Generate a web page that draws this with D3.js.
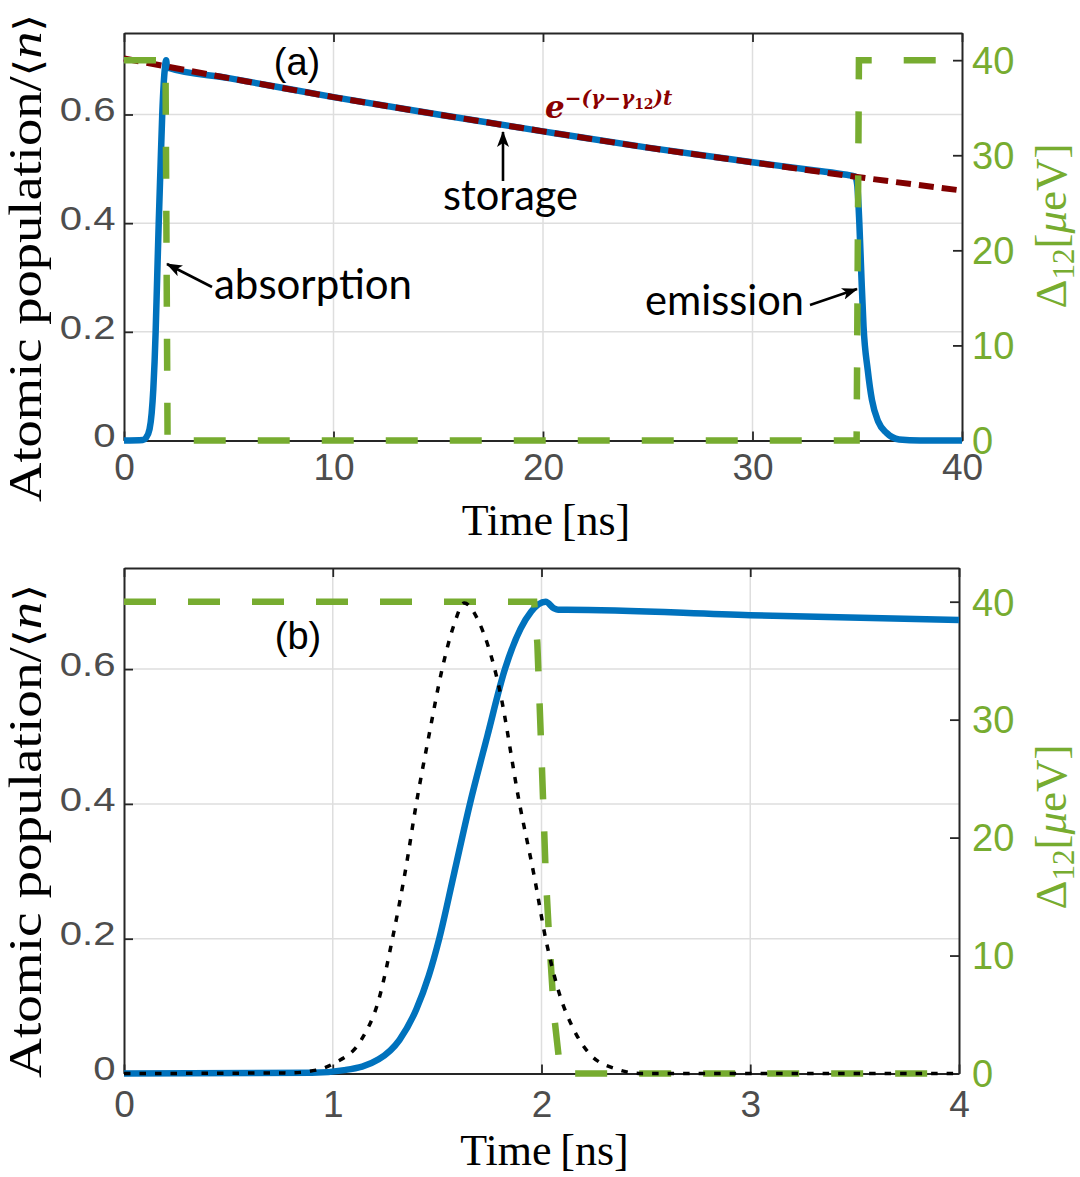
<!DOCTYPE html>
<html>
<head>
<meta charset="utf-8">
<script src="https://cdn.jsdelivr.net/npm/d3@7"></script>
<style>
    body { margin: 0; background: #fff; }
    svg text { font-family: "Liberation Sans", Arial, sans-serif; }
</style>
</head>
<body>
<div id="chart"></div>
<script>
// panel (a): full absorption / storage / emission cycle, 0-40 ns
let timeA = [0, 0.9, 1.05, 1.22, 1.32, 1.40, 1.46, 1.51, 1.58, 1.657, 1.74, 1.825, 1.90, 1.95, 2.01, 2.05, 2.1,
    5, 10, 15, 20, 25, 30, 33, 34.5, 34.9, 35.0, 35.1, 35.2, 35.3, 35.5, 35.7, 36.0, 36.4, 37.0, 38, 40]
let popA = [0, 0.001, 0.005, 0.021, 0.05, 0.095, 0.145, 0.2, 0.295, 0.4, 0.5, 0.6, 0.66, 0.685, 0.70, 0.689, 0.686,
    0.667, 0.632, 0.600, 0.569, 0.539, 0.512, 0.497, 0.489, 0.486, 0.47, 0.40, 0.30, 0.21, 0.13, 0.075, 0.035, 0.014, 0.002, 0, 0]
let fitTimeA = [0, 5, 10, 15, 20, 25, 30, 35, 40]
let fitA = [0.703, 0.667, 0.632, 0.600, 0.569, 0.539, 0.512, 0.485, 0.460]
let detTimeA = [0, 1.98, 2.08, 34.97, 35.08, 40]
let detA = [40, 40, 0, 0, 40, 40]

// panel (b): zoom on the absorption, 0-4 ns
let timeB = [0, 0.9, 1.055, 1.22, 1.32, 1.40, 1.46, 1.51, 1.58, 1.657, 1.74, 1.825, 1.90, 1.95, 1.985, 2.02, 2.06, 2.08, 2.12, 3, 4]
let popB = [0, 0.001, 0.005, 0.021, 0.05, 0.095, 0.145, 0.2, 0.295, 0.4, 0.5, 0.6, 0.66, 0.685, 0.696, 0.700, 0.690, 0.688, 0.688, 0.680, 0.673]
let pulseTimeB = [0, 0.8, 0.92, 1.005, 1.137, 1.22, 1.286, 1.352, 1.40, 1.46, 1.524, 1.58, 1.63, 1.70, 1.796, 1.895, 1.965, 2.02, 2.086, 2.15, 2.234, 2.366, 2.48, 4]
let pulseB = [0, 0.001, 0.005, 0.015, 0.05, 0.109, 0.2, 0.308, 0.4, 0.5, 0.6, 0.665, 0.698, 0.67, 0.574, 0.4, 0.293, 0.2, 0.118, 0.068, 0.028, 0.006, 0, 0]
let detTimeB = [0, 1.965, 1.98, 2.0, 2.02, 2.035, 2.06, 2.085, 2.10, 4]
let detB = [40, 40, 36.5, 27, 17, 12, 5, 1, 0, 0]

let xTicksA = [0, 10, 20, 30, 40]
let xTicksB = [0, 1, 2, 3, 4]
let popTicks = [0, 0.2, 0.4, 0.6]
let popTickLabels = ["0", "0.2", "0.4", "0.6"]
let detTicks = [0, 10, 20, 30, 40]

const BLUE = "#0072BD", GREEN = "#77AC30", DARKRED = "#800000", GRID = "#dedede", TICKGRAY = "#4d4d4d"

class StoragePanel {
    constructor(svg, cfg) {
        this.svg = svg
        this.cfg = cfg
    }

    initVis() {
        let vis = this
        let c = vis.cfg

        vis.g = vis.svg.append("g")

        vis.x = d3.scaleLinear().domain(c.xDomain).range([c.left, c.right])
        vis.y = d3.scaleLinear().domain([0, 0.75]).range([c.bottom, c.top])
        // right axis shares the frame: 40 ueV sits on 0.7
        vis.y2 = d3.scaleLinear().domain([0, 40 * 0.75 / 0.7]).range([c.bottom, c.top])

        // grid
        vis.g.append("g").selectAll("line")
            .data(c.xTicks.slice(1, -1))
            .join("line")
            .attr("x1", d => vis.x(d)).attr("x2", d => vis.x(d))
            .attr("y1", c.top).attr("y2", c.bottom)
            .attr("stroke", GRID).attr("stroke-width", 1.5)
        vis.g.append("g").selectAll("line")
            .data(popTicks.slice(1))
            .join("line")
            .attr("x1", c.left).attr("x2", c.right)
            .attr("y1", d => vis.y(d)).attr("y2", d => vis.y(d))
            .attr("stroke", GRID).attr("stroke-width", 1.5)

        vis.drawAxes()
        vis.drawLines()
        vis.drawLabels()
    }

    drawAxes() {
        let vis = this
        let c = vis.cfg

        let bottomAxis = d3.axisBottom(vis.x).tickValues(c.xTicks).tickSizeInner(-9).tickSizeOuter(0)
            .tickFormat(d3.format("d"))
        let topAxis = d3.axisTop(vis.x).tickValues(c.xTicks).tickSizeInner(-9).tickSizeOuter(0).tickFormat("")
        let leftAxis = d3.axisLeft(vis.y).tickValues(popTicks).tickSizeInner(-9).tickSizeOuter(0)
            .tickFormat((d, i) => popTickLabels[i])
        let rightAxis = d3.axisRight(vis.y2).tickValues(detTicks).tickSizeInner(-9).tickSizeOuter(0)
            .tickPadding(c.rightPad)

        let gb = vis.g.append("g").attr("transform", `translate(0,${c.bottom})`).call(bottomAxis)
        let gt = vis.g.append("g").attr("transform", `translate(0,${c.top})`).call(topAxis)
        let gl = vis.g.append("g").attr("transform", `translate(${c.left},0)`).call(leftAxis)
        let gr = vis.g.append("g").attr("transform", `translate(${c.right},0)`).call(rightAxis)

        ;[gb, gt, gl, gr].forEach(a => {
            a.select(".domain").attr("stroke", "#262626").attr("stroke-width", 2)
            a.selectAll(".tick line").attr("stroke", "#262626").attr("stroke-width", 1.8)
        })

        gb.selectAll(".tick text")
            .attr("fill", TICKGRAY).attr("font-size", 37)
            .attr("dy", 0).attr("y", c.xTickBase - c.bottom)
        gl.selectAll(".tick text")
            .attr("fill", TICKGRAY).attr("font-size", 34)
            .attr("x", 0).attr("dy", "0.33em")
            .attr("transform", "translate(-8.5,-5) scale(1.18,1)")
        gr.selectAll(".tick text")
            .attr("fill", GREEN).attr("font-size", 38)
            .attr("dy", "0.35em")
    }

    drawLines() {
        let vis = this
        let c = vis.cfg

        let popLine = d3.line().x(d => vis.x(d[0])).y(d => vis.y(d[1])).curve(d3.curveMonotoneX)
        let detLine = d3.line().x(d => vis.x(d[0])).y(d => vis.y2(d[1]))

        vis.g.append("path")
            .datum(d3.zip(c.time, c.pop))
            .attr("d", popLine)
            .attr("fill", "none").attr("stroke", BLUE).attr("stroke-width", 6.5)
            .attr("stroke-linejoin", "round")

        if (c.fitTime) {
            vis.g.append("path")
                .datum(d3.zip(c.fitTime, c.fit))
                .attr("d", popLine)
                .attr("fill", "none").attr("stroke", DARKRED).attr("stroke-width", 6)
                .attr("stroke-dasharray", "15,8")
        }

        vis.g.append("path")
            .datum(d3.zip(c.detTime, c.det))
            .attr("d", detLine)
            .attr("fill", "none").attr("stroke", GREEN).attr("stroke-width", 6.5)
            .attr("stroke-dasharray", "32,32")

        if (c.pulseTime) {
            vis.g.append("path")
                .datum(d3.zip(c.pulseTime, c.pulse))
                .attr("d", popLine)
                .attr("fill", "none").attr("stroke", "#000").attr("stroke-width", 3.5)
                .attr("stroke-dasharray", "6.5,9")
        }
    }

    drawLabels() {
        let vis = this
        let c = vis.cfg
        let cx = (c.left + c.right) / 2

        vis.g.append("text")
            .attr("x", cx + 3).attr("y", c.xLabelBase)
            .attr("text-anchor", "middle")
            .style("font-family", "'Liberation Serif', serif").attr("font-size", 44)
            .text("Time\u2009[ns]")

        let yl = vis.g.append("text")
            .attr("transform", `translate(41,${c.yLabelMid}) rotate(-90)`)
            .attr("text-anchor", "middle")
            .attr("textLength", c.yLabelLen).attr("lengthAdjust", "spacingAndGlyphs")
            .style("font-family", "'Liberation Serif', serif").attr("font-size", 46)
        yl.append("tspan").text("Atomic population/")
        yl.append("tspan").style("font-family", "'DejaVu Sans', sans-serif").attr("font-size", 38).text("\u27E8")
        yl.append("tspan").attr("font-style", "italic").text("n")
        yl.append("tspan").style("font-family", "'DejaVu Sans', sans-serif").attr("font-size", 38).text("\u27E9")

        let rl = vis.g.append("text")
            .attr("transform", `translate(1066,${c.rLabelMid}) rotate(-90)`)
            .attr("text-anchor", "middle").attr("fill", GREEN)
            .style("font-family", "'Liberation Serif', serif").attr("font-size", 45)
        rl.append("tspan").text("\u0394")
        rl.append("tspan").attr("font-size", 31).attr("dy", 8).text("12")
        rl.append("tspan").attr("dy", -8).text("[")
        rl.append("tspan").attr("font-style", "italic").text("\u03BC")
        rl.append("tspan").text("eV]")

        vis.g.append("text")
            .attr("x", c.tag[0]).attr("y", c.tag[1])
            .attr("text-anchor", "middle").attr("font-size", 38)
            .text(c.tagText)
    }
}

let svg = d3.select("#chart").append("svg")
    .attr("width", 1080).attr("height", 1177)

let defs = svg.append("defs")
defs.append("marker")
    .attr("id", "arrowHead")
    .attr("viewBox", "0 0 16 12")
    .attr("refX", 15).attr("refY", 6)
    .attr("markerWidth", 16).attr("markerHeight", 12)
    .attr("markerUnits", "userSpaceOnUse")
    .attr("orient", "auto")
    .append("path").attr("d", "M0,0 L16,6 L0,12 L4,6 Z").attr("fill", "#000")

let panelA = new StoragePanel(svg, {
    left: 124, right: 962, top: 33, bottom: 440.5,
    xDomain: [0, 40], xTicks: xTicksA, xTickBase: 480, rightPad: 10,
    time: timeA, pop: popA, fitTime: fitTimeA, fit: fitA, detTime: detTimeA, det: detA,
    xLabelBase: 535, yLabelMid: 258, yLabelLen: 488, rLabelMid: 226,
    tag: [297, 75], tagText: "(a)"
})
panelA.initVis()

let panelB = new StoragePanel(svg, {
    left: 124, right: 959, top: 568, bottom: 1073.5,
    xDomain: [0, 4], xTicks: xTicksB, xTickBase: 1117, rightPad: 13,
    time: timeB, pop: popB, pulseTime: pulseTimeB, pulse: pulseB, detTime: detTimeB, det: detB,
    xLabelBase: 1165, yLabelMid: 831, yLabelLen: 494, rLabelMid: 827,
    tag: [298, 649], tagText: "(b)"
})
panelB.initVis()

// annotations on panel (a)
let notes = [
    {text: "storage", x: 443, y: 210, len: 135},
    {text: "absorption", x: 214, y: 299, len: 198},
    {text: "emission", x: 645, y: 315, len: 159}
]
svg.append("g").selectAll("text")
    .data(notes)
    .join("text")
    .attr("x", d => d.x).attr("y", d => d.y)
    .attr("textLength", d => d.len).attr("lengthAdjust", "spacingAndGlyphs")
    .style("font-family", "Lato, 'Open Sans', sans-serif").attr("font-size", 42)
    .text(d => d.text)

let arrows = [
    [[503, 181], [503, 132]],
    [[212, 287], [167, 264]],
    [[810, 305], [857, 289]]
]
svg.append("g").selectAll("line")
    .data(arrows)
    .join("line")
    .attr("x1", d => d[0][0]).attr("y1", d => d[0][1])
    .attr("x2", d => d[1][0]).attr("y2", d => d[1][1])
    .attr("stroke", "#000").attr("stroke-width", 2.6)
    .attr("marker-end", "url(#arrowHead)")

let fitLabel = svg.append("text")
    .attr("x", 545).attr("y", 118).attr("fill", "#8b0000")
    .style("font-family", "'DejaVu Serif', serif").attr("font-style", "italic").attr("font-weight", "bold")
    .attr("font-size", 31)
fitLabel.append("tspan").text("e")
fitLabel.append("tspan").attr("font-size", 20).attr("dy", -13).text("\u2212(\u03B3\u2212\u03B3")
fitLabel.append("tspan").attr("font-size", 14).attr("dy", 4).attr("font-style", "normal").text("12")
fitLabel.append("tspan").attr("font-size", 20).attr("dy", -4).text(")t")
</script>
</body>
</html>
